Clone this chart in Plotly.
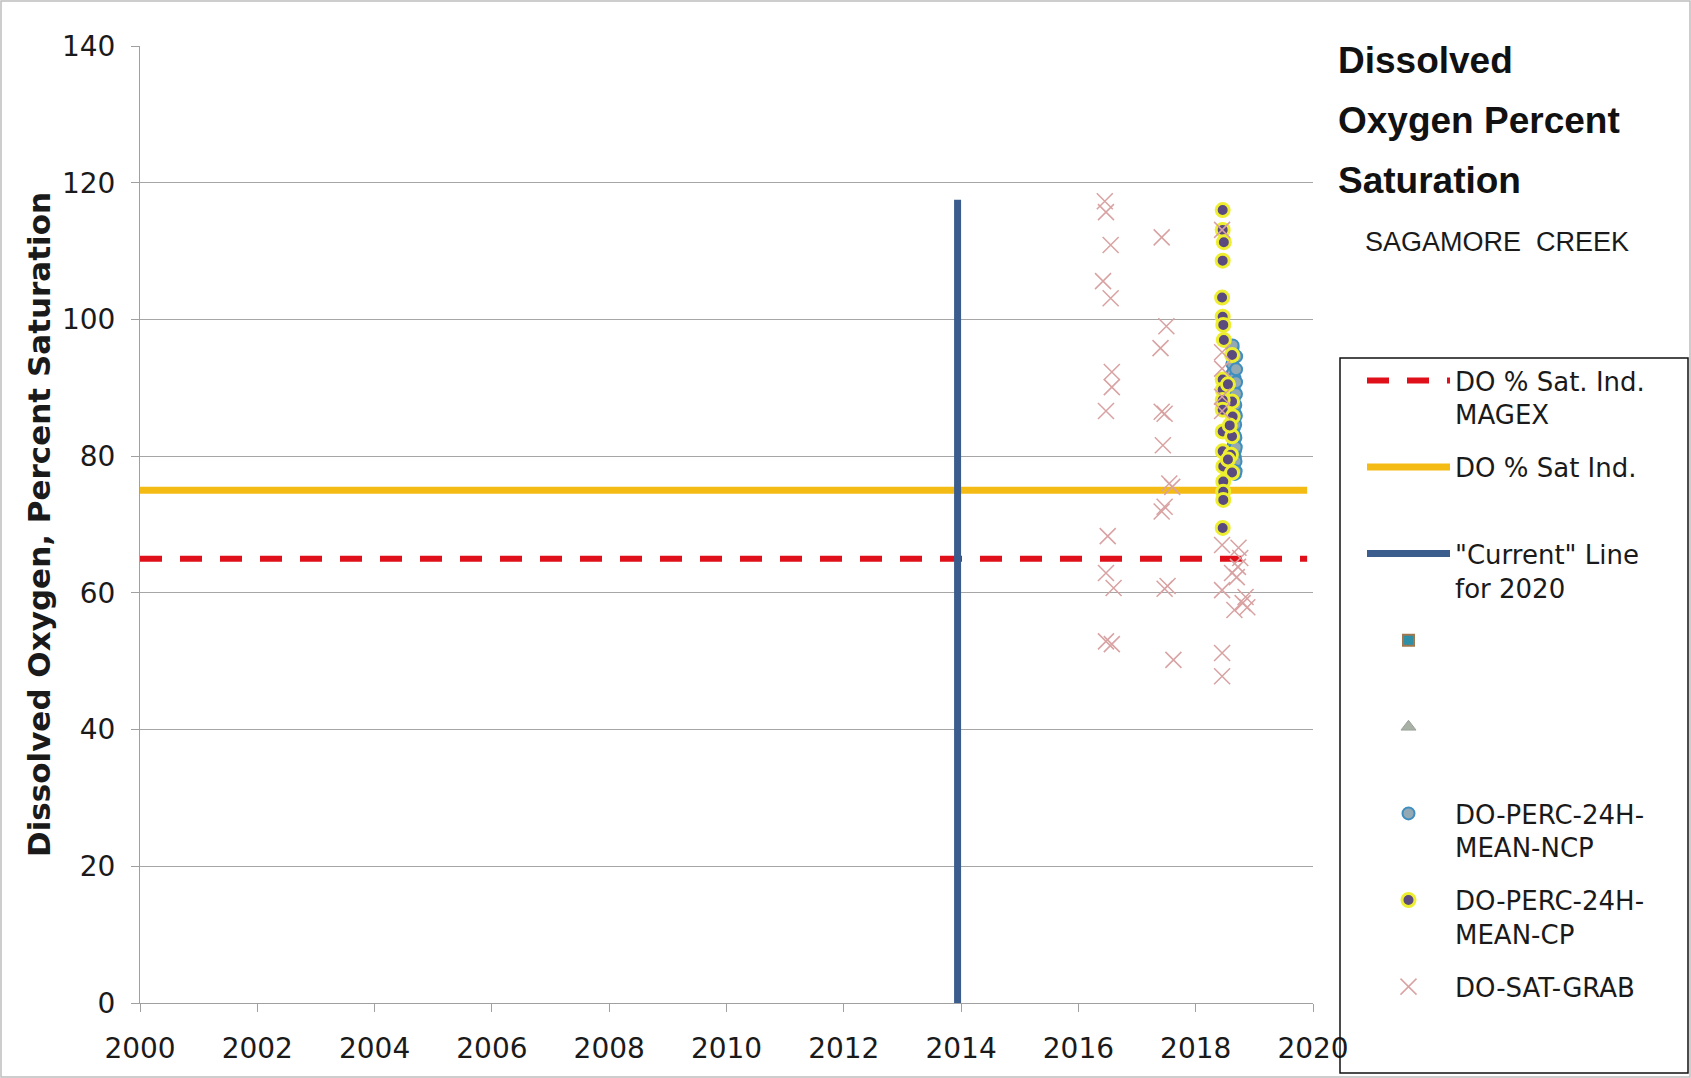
import plotly.graph_objects as go

# ---------------- data ----------------
std_x = [2000, 2019.9]
magex_y = [65, 65]
ind_y = [75, 75]
current_x = [2013.94, 2013.94]
current_y = [0, 117.5]

ncp_x = [2018.625, 2018.627, 2018.629, 2018.631, 2018.633, 2018.635, 2018.637, 2018.639,
         2018.641, 2018.643, 2018.645, 2018.647, 2018.649, 2018.651, 2018.653, 2018.655,
         2018.657, 2018.659, 2018.661, 2018.663, 2018.665, 2018.667, 2018.669, 2018.671,
         2018.673, 2018.675, 2018.677, 2018.679, 2018.681, 2018.683, 2018.685, 2018.687,
         2018.689, 2018.690, 2018.688]
ncp_y = [93.5, 95.8, 96.2, 92.1, 88.4, 85.7, 90.3, 87.2, 83.9, 81.5, 86.8, 89.9, 84.2,
         80.6, 78.9, 82.4, 85.1, 88.7, 91.4, 86.3, 83.0, 79.8, 77.4, 80.9, 84.6, 87.5,
         82.7, 79.2, 77.8, 81.3, 85.9, 89.1, 92.7, 94.6, 90.8]

cp_x = [2018.46, 2018.46, 2018.48, 2018.46, 2018.45, 2018.46, 2018.47, 2018.48, 2018.62,
        2018.46, 2018.46, 2018.62, 2018.46, 2018.46, 2018.63, 2018.46, 2018.62, 2018.46,
        2018.60, 2018.47, 2018.62, 2018.47, 2018.47, 2018.47, 2018.46, 2018.55, 2018.58,
        2018.55]
cp_y = [116.0, 113.1, 111.3, 108.6, 103.2, 100.4, 99.2, 97.0, 94.8,
        91.2, 89.7, 88.0, 88.2, 86.8, 85.8, 83.6, 82.9, 80.7,
        80.2, 78.5, 77.6, 76.3, 74.8, 73.6, 69.5, 90.5, 84.5,
        79.5]

grab_x = [2016.45, 2016.47, 2016.55, 2016.42, 2016.55, 2016.57, 2016.57, 2016.47, 2016.50,
          2016.47, 2016.60, 2016.47, 2016.57,
          2017.42, 2017.50, 2017.40, 2017.42, 2017.47, 2017.44, 2017.55, 2017.60, 2017.47,
          2017.42, 2017.52, 2017.47, 2017.62,
          2018.45, 2018.45, 2018.45, 2018.45, 2018.45, 2018.45, 2018.73, 2018.76, 2018.72,
          2018.62, 2018.45, 2018.85, 2018.80, 2018.66, 2018.88, 2018.70, 2018.45, 2018.45]
grab_y = [117.3, 115.7, 110.9, 105.6, 103.1, 92.3, 90.1, 86.6, 68.3,
          62.9, 60.7, 52.9, 52.5,
          112.0, 99.0, 95.8, 86.5, 86.2, 81.6, 76.0, 75.5, 72.6,
          71.9, 61.0, 60.6, 50.2,
          113.1, 95.2, 92.8, 88.7, 86.6, 67.0, 66.6, 65.1, 63.8,
          62.9, 60.4, 59.4, 58.5, 57.5, 57.9, 62.3, 51.2, 47.8]

x_ticks = [2000, 2002, 2004, 2006, 2008, 2010, 2012, 2014, 2016, 2018, 2020]
y_ticks = [0, 20, 40, 60, 80, 100, 120, 140]

# ---------------- figure ----------------
W, H = 1691, 1078
L, R, T, B = 140, 378, 46, 75
PW, PH = W - L - R, H - T - B

def px_x(px):
    return (px - L) / PW

def px_y(py):
    return (H - B - py) / PH

fig = go.Figure()

fig.add_trace(go.Scatter(
    x=std_x, y=magex_y, mode="lines", name="DO % Sat. Ind.<br>MAGEX",
    line=dict(color="#e0101a", width=6, dash="22px,18px"), legendgroup="a"))
fig.add_trace(go.Scatter(
    x=std_x, y=ind_y, mode="lines", name="DO % Sat Ind.<br> ",
    line=dict(color="#f4bb14", width=7), legendgroup="b"))
fig.add_trace(go.Scatter(
    x=current_x, y=current_y, mode="lines", name="\"Current\" Line<br>for 2020",
    line=dict(color="#3b5d8e", width=7), legendgroup="c"))
fig.add_trace(go.Scatter(
    x=[None], y=[None], mode="markers", name=" <br> ",
    marker=dict(symbol="square", size=11, color="#2f8fa6",
                line=dict(color="#a07850", width=2)), legendgroup="d"))
fig.add_trace(go.Scatter(
    x=[None], y=[None], mode="markers", name=" <br> ",
    marker=dict(symbol="triangle-up", size=13, color="#a9b1a7",
                line=dict(color="#9aa39a", width=1)), legendgroup="e"))
fig.add_trace(go.Scatter(
    x=ncp_x, y=ncp_y, mode="markers", name="DO-PERC-24H-<br>MEAN-NCP",
    marker=dict(symbol="circle", size=12, color="#93a9b3",
                line=dict(color="#3e8ec0", width=2)), legendgroup="f"))
fig.add_trace(go.Scatter(
    x=cp_x, y=cp_y, mode="markers", name="DO-PERC-24H-<br>MEAN-CP",
    marker=dict(symbol="circle", size=13, color="#5a4a7d",
                line=dict(color="#eeee30", width=3)), legendgroup="g"))
fig.add_trace(go.Scatter(
    x=grab_x, y=grab_y, mode="markers", name="DO-SAT-GRAB<br> ",
    marker=dict(symbol="x-thin", size=16, color="#d9a2a2",
                line=dict(color="#d9a2a2", width=1.5)), legendgroup="h"))

fig.update_layout(
    width=W, height=H,
    margin=dict(l=L, r=R, t=T, b=B, autoexpand=False),
    paper_bgcolor="white", plot_bgcolor="white",
    font=dict(family="DejaVu Sans", size=26, color="#1a1a1a"),
    showlegend=True,
    legend=dict(
        x=px_x(1362), y=px_y(357), xanchor="left", yanchor="top",
        bgcolor="rgba(0,0,0,0)", borderwidth=0,
        font=dict(family="DejaVu Sans", size=26, color="#1a1a1a"),
        itemwidth=83, valign="top", tracegroupgap=16, traceorder="grouped",
    ),
    xaxis=dict(
        range=[2000, 2020], tickmode="array", tickvals=x_ticks,
        ticktext=[str(v) for v in x_ticks],
        showgrid=False, zeroline=False,
        showline=True, linecolor="#a0a0a0", linewidth=1,
        ticks="outside", ticklen=8, tickcolor="#a0a0a0",
        tickfont=dict(family="DejaVu Sans", size=28, color="#1a1a1a"),
        ticklabelstandoff=12,
    ),
    yaxis=dict(
        range=[0, 140], tickmode="array", tickvals=y_ticks,
        ticktext=[str(v) for v in y_ticks],
        showgrid=True, gridcolor="#a6a6a6", gridwidth=1, zeroline=False,
        showline=True, linecolor="#a0a0a0", linewidth=1,
        ticks="outside", ticklen=8, tickcolor="#a0a0a0",
        tickfont=dict(family="DejaVu Sans", size=28, color="#1a1a1a"),
        ticklabelstandoff=10,
        title=dict(text="<b>Dissolved Oxygen, Percent Saturation</b>",
                   font=dict(family="DejaVu Sans", size=31, color="#1a1a1a"),
                   standoff=2),
    ),
)

# legend frame and outer figure frame
fig.add_shape(type="rect", xref="paper", yref="paper",
              x0=px_x(1340), x1=px_x(1688), y0=px_y(1073), y1=px_y(358),
              line=dict(color="#111111", width=1.5), fillcolor="rgba(0,0,0,0)", layer="above")
fig.add_shape(type="rect", xref="paper", yref="paper",
              x0=px_x(1), x1=px_x(W - 1), y0=px_y(H - 1), y1=px_y(1),
              line=dict(color="#bdbdbd", width=1.5), fillcolor="rgba(0,0,0,0)", layer="below")

# title block on the right
title_lines = ["Dissolved", "Oxygen Percent", "Saturation"]
title_centers = [60, 120, 181]
for txt, cy in zip(title_lines, title_centers):
    fig.add_annotation(text="<b>" + txt + "</b>", xref="paper", yref="paper",
                       x=px_x(1336), y=px_y(cy), xanchor="left", yanchor="middle",
                       showarrow=False,
                       font=dict(family="Liberation Sans", size=37, color="#111111"))
fig.add_annotation(text="SAGAMORE\u00a0 CREEK", xref="paper", yref="paper",
                   x=px_x(1363), y=px_y(242), xanchor="left", yanchor="middle",
                   showarrow=False,
                   font=dict(family="Liberation Sans", size=27, color="#1a1a1a"))

fig.write_html("out.html", config={"displayModeBar": False},
               post_script="document.body.style.margin='0';")
